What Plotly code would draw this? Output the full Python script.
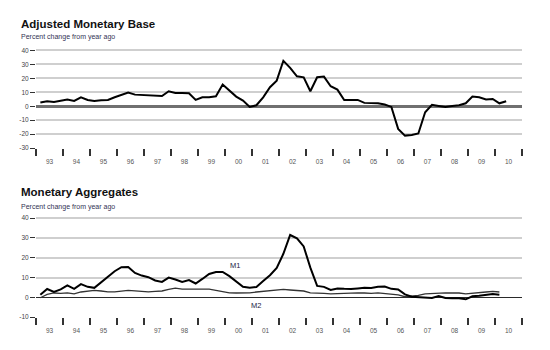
import pandas as pd
import plotly.graph_objects as go

# ---- data ----
base_dates = pd.date_range("1993-03-01", periods=70, freq="3MS")
agg_dates = pd.date_range("1993-03-01", periods=69, freq="3MS")

adjusted_base = [2.6, 3.6, 3.1, 4.0, 4.8, 3.8, 6.4, 4.5, 3.8, 4.3, 4.5, 6.4, 8.3, 9.8, 8.3, 8.1, 8.1, 7.6,
                 7.3, 10.7, 9.5, 9.5, 9.3, 4.5, 6.4, 6.4, 7.1, 15.5, 11.2, 6.9, 4.0, -0.5, 0.7, 6.4, 13.6, 18.3,
                 32.5, 27.4, 21.4, 20.7, 10.7, 20.7, 21.2, 14.3, 11.9, 4.5, 4.5, 4.5, 2.4, 2.1, 2.1, 1.2, -0.5,
                 -16.2, -21.0, -20.5, -19.5, -4.3, 1.0, 0.2, -0.5, 0.2, 0.7, 2.1, 6.9, 6.4, 4.8, 5.2, 2.1, 3.6]

m1 = [1.3, 4.2, 2.7, 4.0, 6.0, 4.3, 6.7, 5.3, 4.8, 7.7, 10.5, 13.2, 15.2, 15.3, 12.3, 11.0, 10.2, 8.5, 7.8,
      10.0, 9.0, 7.8, 8.7, 7.0, 9.3, 11.8, 12.8, 12.8, 10.7, 8.2, 5.3, 4.8, 5.2, 8.2, 11.2, 14.8,
      22.0, 31.5, 29.8, 25.7, 15.0, 5.8, 5.3, 3.7, 4.5, 4.3, 4.2, 4.5, 4.8, 4.7, 5.3, 5.5, 4.3, 4.0, 1.5,
      0.3, 0.0, -0.2, -0.3, 0.7, -0.3, -0.5, -0.5, -1.0, 0.5, 0.8, 1.3, 1.7, 1.3]

m2 = [-0.2, 1.5, 2.2, 2.0, 2.3, 1.8, 2.7, 3.2, 3.5, 3.2, 2.8, 2.8, 3.0, 3.5, 3.3, 3.0, 2.8, 3.0, 3.2,
      4.0, 4.7, 4.2, 4.3, 4.3, 4.2, 4.2, 3.5, 3.0, 2.3, 2.2, 2.2, 2.3, 2.7, 3.0, 3.2, 3.5,
      4.0, 3.7, 3.5, 3.2, 2.3, 2.0, 2.0, 1.8, 2.0, 2.2, 2.2, 2.3, 2.2, 2.0, 2.3, 2.0, 1.7, 1.2, 0.3,
      0.7, 1.0, 1.8, 2.0, 2.2, 2.3, 2.2, 2.2, 1.8, 2.2, 2.3, 2.7, 3.0, 2.7]

top_ticks = [-30, -20, -10, 0, 10, 20, 30, 40]
bottom_ticks = [-10, 0, 10, 20, 30, 40]

W, H = 550, 350
FONT = "Liberation Sans, Arial, sans-serif"

fig = go.Figure()
fig.add_trace(go.Scatter(x=base_dates, y=adjusted_base, mode="lines",
                         line=dict(color="#000000", width=2), xaxis="x", yaxis="y", showlegend=False))
fig.add_trace(go.Scatter(x=agg_dates, y=m2, mode="lines",
                         line=dict(color="#333333", width=1.3), xaxis="x2", yaxis="y2", showlegend=False))
fig.add_trace(go.Scatter(x=agg_dates, y=m1, mode="lines",
                         line=dict(color="#000000", width=2), xaxis="x2", yaxis="y2", showlegend=False))


def xaxis_style(anchor):
    return dict(type="date", range=["1993-01-01", "2011-01-01"], dtick="M12", tick0="1993-01-01",
                tickformat="%y", ticklabelmode="period", ticks="outside", ticklen=7, tickwidth=1.5,
                tickcolor="#333333", showgrid=False, showline=False, zeroline=False,
                tickfont=dict(size=6.5, color="#555555", family=FONT), anchor=anchor,
                domain=[36 / W, 522 / W])


def yaxis_style(ticks, lo, hi, domain, anchor):
    return dict(range=[lo, hi], tickvals=ticks, ticktext=[str(t) for t in ticks], ticks="outside",
                ticklen=5, tickwidth=1.2, tickcolor="#333333", showgrid=False, showline=False,
                zeroline=True, tickfont=dict(size=6.5, color="#444444", family=FONT),
                minor=dict(tickvals=[t for t in ticks if t not in (lo, 0)], showgrid=True,
                           gridcolor="#cfcfcf", gridwidth=1.5, ticks=""),
                domain=domain, anchor=anchor, fixedrange=True)


top_dom = [1 - 148.3 / H, 1 - (49 - 1.42) / H]
bot_dom = [1 - 319.7 / H, 1 - (219.3 - 2.0) / H]

fig.update_layout(
    width=W, height=H, margin=dict(l=0, r=0, t=0, b=0),
    paper_bgcolor="white", plot_bgcolor="white",
    xaxis=xaxis_style("y"),
    yaxis={**yaxis_style(top_ticks, -30, 41, top_dom, "x"), "zerolinecolor": "#707070", "zerolinewidth": 2.5},
    xaxis2=xaxis_style("y2"),
    yaxis2={**yaxis_style(bottom_ticks, -10, 41, bot_dom, "x2"), "zerolinecolor": "#2a2a2a", "zerolinewidth": 1.3},
    font=dict(family=FONT),
)

ann = [
    dict(text="<b>Adjusted Monetary Base</b>", x=19 / W, y=1 - 22 / H, size=11.5, color="#111111"),
    dict(text="Percent change from year ago", x=19 / W, y=1 - 36 / H, size=7, color="#333355"),
    dict(text="<b>Monetary Aggregates</b>", x=19 / W, y=1 - 193 / H, size=11.5, color="#111111"),
    dict(text="Percent change from year ago", x=19 / W, y=1 - 208 / H, size=7, color="#333355"),
]
for a in ann:
    fig.add_annotation(text=a["text"], x=a["x"], y=a["y"], xref="paper", yref="paper",
                       xanchor="left", yanchor="middle", showarrow=False,
                       font=dict(size=a["size"], color=a["color"], family=FONT))

fig.add_annotation(text="M1", x="2000-05-15", y=16.3, xref="x2", yref="y2", showarrow=False,
                   font=dict(size=7.5, color="#222244", family=FONT))
fig.add_annotation(text="M2", x="2001-03-01", y=-4.1, xref="x2", yref="y2", showarrow=False,
                   font=dict(size=7.5, color="#222244", family=FONT))

fig.write_html("out.html")
